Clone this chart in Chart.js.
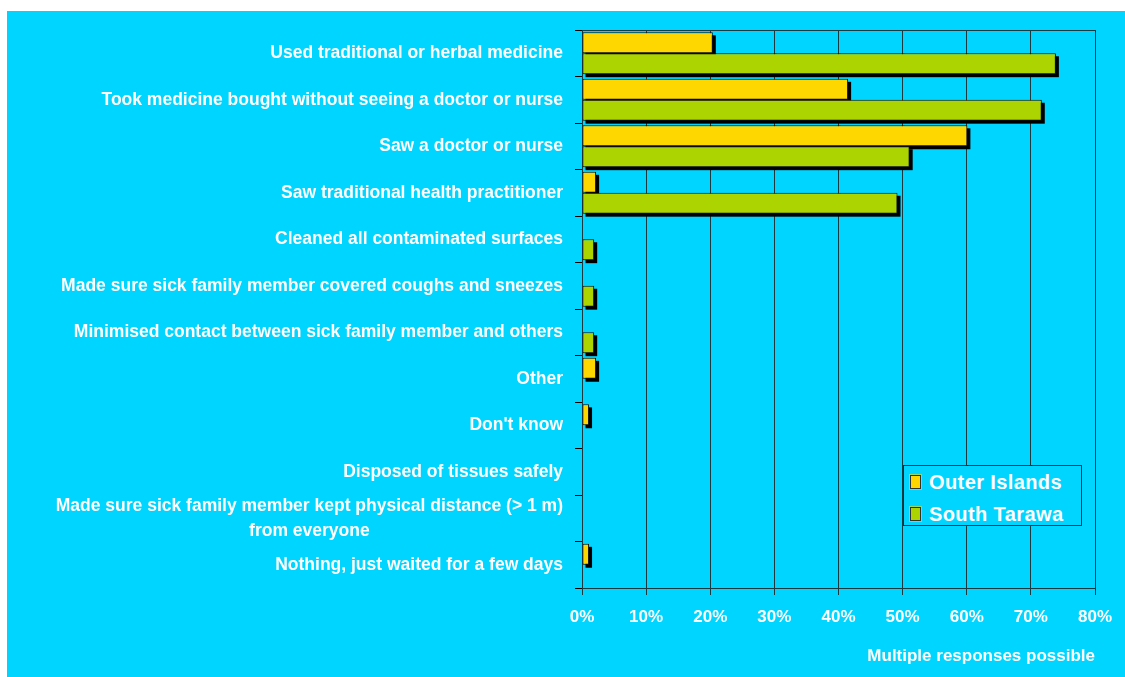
<!DOCTYPE html>
<html lang="en">
<head>
<meta charset="UTF-8" />
<title>Actions taken when a family member was sick</title>
<script src="https://cdn.jsdelivr.net/npm/chart.js@4.4.0/dist/chart.umd.min.js"></script>
<style>
  html, body { margin: 0; padding: 0; background: #fff; }
  #wrap { position: relative; width: 1125px; height: 677px; }
  #legend {
    position: absolute; left: 903px; top: 465px; width: 179px; height: 61px;
    box-sizing: border-box; border: 1px solid #17333a; background: #00d5ff;
    font: bold 20px "Liberation Sans", Arial, sans-serif; letter-spacing: 0.4px; color: #fff;
  }
  #legend .row { position: absolute; left: 6px; height: 24px; display: flex; align-items: center; }
  #legend .sw { width: 11px; height: 14px; box-sizing: border-box; border: 1px solid #333; margin-right: 8px; outline: 1px solid rgba(255,215,0,0.6); }
</style>
</head>
<body>
<div id="wrap">
  <canvas id="chart"></canvas>
  <div id="legend"></div>
</div>
<script>
const categories = [
  "Used traditional or herbal medicine",
  "Took medicine bought without seeing a doctor or nurse",
  "Saw a doctor or nurse",
  "Saw traditional health practitioner",
  "Cleaned all contaminated surfaces",
  "Made sure sick family member covered coughs and sneezes",
  "Minimised contact between sick family member and others",
  "Other",
  "Don't know",
  "Disposed of tissues safely",
  ["Made sure sick family member kept physical distance (> 1 m)", "from everyone"],
  "Nothing, just waited for a few days",
];
const outerIslands = [20.4, 41.5, 60.1, 2.2, 0, 0, 0, 2.2, 1.1, 0, 0, 1.1];
const southTarawa = [73.9, 71.7, 51.1, 49.2, 1.9, 1.9, 1.9, 0, 0, 0, 0, 0];
const xTicks = [0, 10, 20, 30, 40, 50, 60, 70, 80];

const CYAN = "#00d5ff";
const GRID = "#1c3940";
const FONT = '"Liberation Sans", Arial, sans-serif';

// white page with the cyan panel
const panelBg = {
  id: "panelBg",
  beforeDraw(chart) {
    const { ctx, width, height } = chart;
    ctx.save();
    ctx.fillStyle = "#fff";
    ctx.fillRect(0, 0, width, height);
    ctx.fillStyle = CYAN;
    ctx.fillRect(7, 11, width - 7, height - 11);
    ctx.restore();
  },
};

// plot frame + hard drop shadows under every bar
const barShadows = {
  id: "barShadows",
  beforeDatasetsDraw(chart) {
    const { ctx, chartArea: a } = chart;
    ctx.save();
    ctx.strokeStyle = GRID;
    ctx.lineWidth = 1;
    ctx.strokeRect(a.left + 0.5, a.top + 0.5, a.right - a.left, a.bottom - a.top);
    ctx.fillStyle = "#000";
    chart.data.datasets.forEach((ds, i) => {
      chart.getDatasetMeta(i).data.forEach((bar) => {
        const { x, y, base, height } = bar.getProps(["x", "y", "base", "height"], true);
        if (x - base > 0.5) ctx.fillRect(base + 3, y - height / 2 + 3, x - base, height);
      });
    });
    ctx.restore();
  },
};

// category labels: single lines right-aligned, wrapped labels centred as a block
const catLabels = {
  id: "catLabels",
  afterDraw(chart) {
    const { ctx } = chart;
    const ys = chart.scales.y;
    const xRight = ys.right - 19;
    ctx.save();
    ctx.font = "bold 17.5px " + FONT;
    ctx.fillStyle = "#fff";
    ctx.textBaseline = "middle";
    categories.forEach((label, i) => {
      const yc = ys.getPixelForValue(i);
      if (Array.isArray(label)) {
        const w = Math.max(...label.map((l) => ctx.measureText(l).width));
        const lh = 25;
        ctx.textAlign = "center";
        label.forEach((l, k) => {
          ctx.fillText(l, xRight - w / 2, yc - ((label.length - 1) * lh) / 2 + k * lh);
        });
      } else {
        ctx.textAlign = "right";
        ctx.fillText(label, xRight, yc);
      }
    });
    ctx.restore();
  },
};

const chart = new Chart(document.getElementById("chart"), {
  type: "bar",
  data: {
    labels: categories,
    datasets: [
      { label: "Outer Islands", data: outerIslands, backgroundColor: "#ffd700" },
      { label: "South Tarawa", data: southTarawa, backgroundColor: "#acd400" },
    ],
  },
  options: {
    indexAxis: "y",
    responsive: true,
    maintainAspectRatio: false,
    animation: false,
    layout: { padding: { left: 0, top: 30, right: 30, bottom: 10 } },
    datasets: {
      bar: {
        borderColor: "#111",
        borderWidth: 1,
        borderSkipped: false,
        categoryPercentage: 0.9,
        barPercentage: 1,
      },
    },
    plugins: { legend: { display: false }, tooltip: { enabled: false } },
    scales: {
      x: {
        min: 0,
        max: 80,
        afterBuildTicks: (s) => { s.ticks = xTicks.map((v) => ({ value: v })); },
        afterFit: (s) => { s.height = 79; },
        grid: { color: GRID, lineWidth: 1, tickLength: 7, tickColor: GRID },
        border: { color: "#000", width: 1 },
        ticks: {
          color: "#fff",
          font: { family: FONT, size: 17, weight: "bold" },
          padding: 12,
          callback: (v) => v + "%",
        },
        title: {
          display: true,
          text: "Multiple responses possible",
          align: "end",
          color: "#fff",
          font: { family: FONT, size: 17, weight: "bold" },
          padding: 0,
        },
      },
      y: {
        afterFit: (s) => { s.width = 582; },
        grid: { drawOnChartArea: false, tickLength: 7, color: "#000" },
        border: { color: "#000", width: 1 },
        ticks: { display: false },
      },
    },
  },
  plugins: [panelBg, barShadows, catLabels],
});

// legend built from the datasets
const legend = document.getElementById("legend");
chart.data.datasets.forEach((ds, i) => {
  const row = document.createElement("div");
  row.className = "row";
  row.style.top = (4 + i * 32) + "px";
  row.innerHTML = `<span class="sw" style="background:${ds.backgroundColor}"></span><span>${ds.label}</span>`;
  legend.appendChild(row);
});
</script>
</body>
</html>
